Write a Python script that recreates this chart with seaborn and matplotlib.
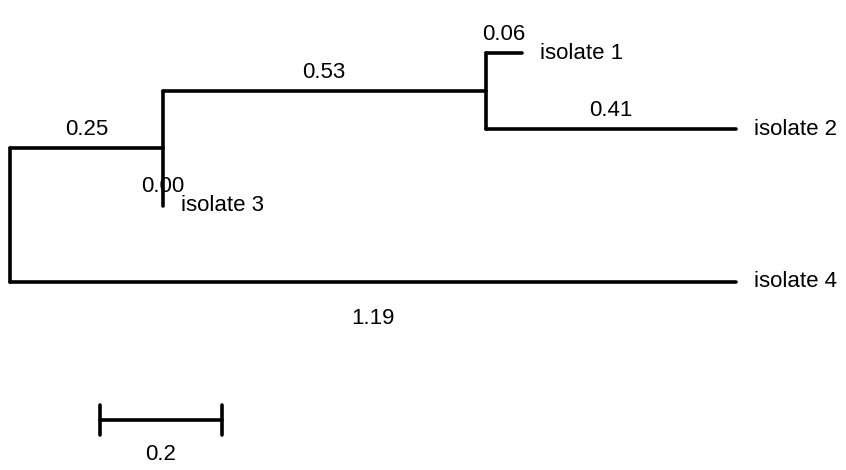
import numpy as np
import pandas as pd
import seaborn as sns
import matplotlib
matplotlib.use("Agg")
import matplotlib.pyplot as plt

sns.set_theme(style="white")
plt.rcParams['font.family'] = ['Liberation Sans', 'DejaVu Sans']
plt.rcParams['text.color'] = 'black'

# tree: ((isolate 1:0.06, isolate 2:0.41):0.53, isolate 3:0.00):0.25, isolate 4:1.19
leaf_names = ["isolate 1", "isolate 2", "isolate 3", "isolate 4"]
leaf_lengths = [0.06, 0.41, 0.00, 1.19]
inner_lengths = {"A": 0.25, "B": 0.53}
children = {"root": ["A", "isolate 4"], "A": ["B", "isolate 3"], "B": ["isolate 1", "isolate 2"]}
scale_len = 0.2
scale_start = 0.147

blen = dict(zip(leaf_names, leaf_lengths))
blen.update(inner_lengths)

# layout: leaves on rows 0..3, inner nodes at midpoint of children
xpos, ypos = {"root": 0.0}, {}
def place(node, x):
    xpos[node] = x
    if node in leaf_names:
        ypos[node] = leaf_names.index(node)
        return
    for c in children[node]:
        place(c, x + blen[c])
    ypos[node] = np.mean([ypos[c] for c in children[node]])
place("root", 0.0)

segs = []
k = 0
for parent, kids in children.items():
    ys = [ypos[c] for c in kids]
    segs += [(k, xpos[parent], min(ys)), (k, xpos[parent], max(ys))]
    k += 1
    for c in kids:
        segs += [(k, xpos[parent], ypos[c]), (k, xpos[c], ypos[c])]
        k += 1
df = pd.DataFrame(segs, columns=["seg", "x", "y"])

fig = plt.figure(figsize=(8.46, 4.70), dpi=100)
ax = fig.add_axes([0, 0, 1, 1])
sns.lineplot(data=df, x="x", y="y", units="seg", estimator=None, sort=False,
             color="black", linewidth=2.6, ax=ax)

fs = 16
for node, par in [("A", "root"), ("B", "A")] + [(n, p) for p, ks in children.items() for n in ks if n in leaf_names]:
    mid = (xpos[par] + xpos[node]) / 2
    if node == "isolate 4":
        ax.annotate(f"{blen[node]:.2f}", (mid, ypos[node]), xytext=(0, -19), textcoords="offset points",
                    ha="center", va="top", fontsize=fs)
    else:
        ax.annotate(f"{blen[node]:.2f}", (mid, ypos[node]), xytext=(0, 6), textcoords="offset points",
                    ha="center", va="bottom", fontsize=fs)

for n in leaf_names:
    ax.annotate(n, (xpos[n], ypos[n]), xytext=(13, 0), textcoords="offset points",
                ha="left", va="center", fontsize=fs)

# scale bar
sb_y = 4.81
ax.plot([scale_start, scale_start + scale_len], [sb_y, sb_y], color="black", lw=2.6)
for xx in [scale_start, scale_start + scale_len]:
    ax.plot([xx, xx], [sb_y - 0.2, sb_y + 0.2], color="black", lw=2.6)
ax.annotate(f"{scale_len:g}", (scale_start + scale_len / 2, sb_y), xytext=(0, -17), textcoords="offset points",
            ha="center", va="top", fontsize=fs)

ax.set_xlim(-10 / 610, 836 / 610)
ax.set_ylim(5.465, -0.695)
ax.axis("off")
fig.savefig("out.png", dpi=100)
